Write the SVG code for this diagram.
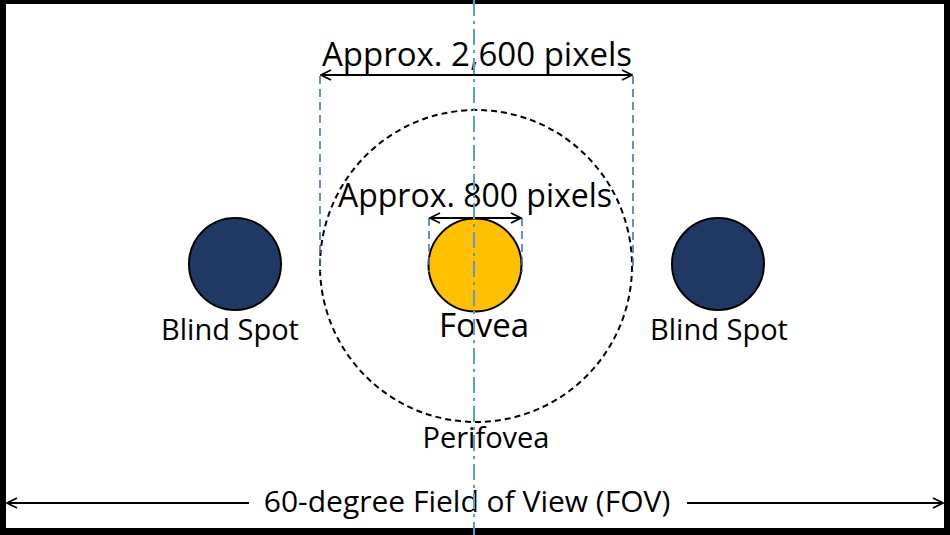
<svg xmlns="http://www.w3.org/2000/svg" width="950" height="535" viewBox="0 0 950 535">
<defs>
<style>
.t{font-family:"Open Sans","Liberation Sans",sans-serif;fill:#000;text-anchor:middle}
.dim{stroke:#000;stroke-width:1.8;fill:none}
.guide{stroke:#4472C4;stroke-width:1.6;stroke-dasharray:8,5;fill:none}
.center{stroke:#5B9BD5;stroke-width:2;stroke-dasharray:16,5,3,5;fill:none}
</style>
<marker id="ah" viewBox="0 0 12 12" refX="11" refY="6" markerWidth="12" markerHeight="12" markerUnits="userSpaceOnUse" orient="auto-start-reverse">
<path d="M1,1 L11,6 L1,11" fill="none" stroke="#000" stroke-width="1.8"/>
</marker>
</defs>
<rect x="0" y="0" width="950" height="535" fill="#000"/>
<rect x="6" y="4" width="938" height="524" fill="#fff"/>

<g id="perifovea">
<circle cx="476" cy="266" r="156" fill="none" stroke="#000" stroke-width="2" stroke-dasharray="6,4"/>
<text class="t" x="486" y="448" font-size="29">Perifovea</text>
</g>
<g id="fovea">
<circle cx="475" cy="265" r="46.5" fill="#FFC000" stroke="#000" stroke-width="2"/>
<text class="t" x="484" y="337" font-size="33">Fovea</text>
</g>
<g id="blind-left">
<circle cx="235" cy="264" r="46" fill="#203864" stroke="#000" stroke-width="2"/>
<text class="t" x="230" y="340" font-size="29">Blind Spot</text>
</g>
<g id="blind-right">
<circle cx="718" cy="264" r="46" fill="#203864" stroke="#000" stroke-width="2"/>
<text class="t" x="719" y="340" font-size="29">Blind Spot</text>
</g>

<g id="connectors">
<line class="guide" x1="320" y1="76" x2="320" y2="272"/>
<line class="guide" x1="633" y1="76" x2="633" y2="272"/>
<line class="guide" x1="429" y1="218" x2="429" y2="272"/>
<line class="guide" x1="522" y1="218" x2="522" y2="272"/>
<line class="dim" x1="321" y1="75" x2="632" y2="75" marker-start="url(#ah)" marker-end="url(#ah)"/>
<line class="dim" x1="430" y1="218" x2="521" y2="218" marker-start="url(#ah)" marker-end="url(#ah)"/>
<line class="dim" x1="7" y1="503" x2="249" y2="503" marker-start="url(#ah)"/>
<line class="dim" x1="687" y1="503" x2="943" y2="503" marker-end="url(#ah)"/>
</g>

<g id="labels">
<text class="t" x="477" y="66" font-size="33">Approx. 2,600 pixels</text>
<text class="t" x="475" y="207" font-size="32">Approx. 800 pixels</text>
<text class="t" x="467" y="512" font-size="30">60-degree Field of View (FOV)</text>
</g>

<g id="centerline">
<line class="center" x1="474" y1="0" x2="474" y2="535"/>
</g>
</svg>
